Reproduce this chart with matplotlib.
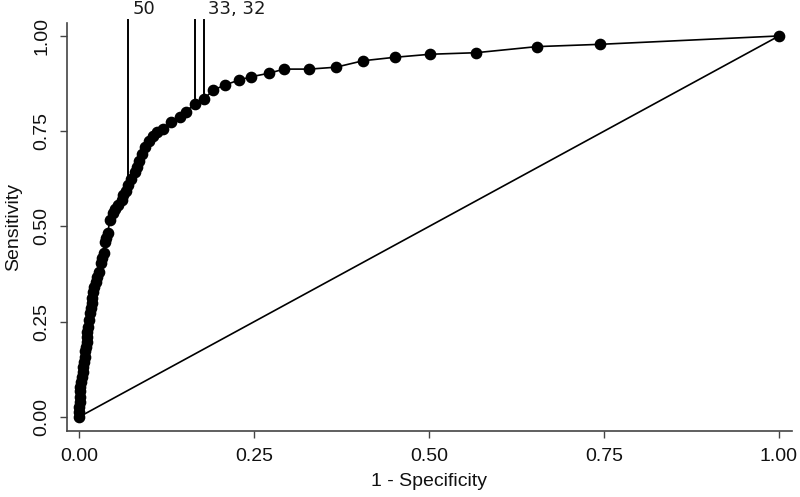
import matplotlib
matplotlib.use("Agg")
import matplotlib.pyplot as plt

# ROC curve points (1 - specificity, sensitivity)
fpr = [0.000, 0.000, 0.000, 0.001, 0.001, 0.002, 0.002, 0.003, 0.004, 0.005,
       0.006, 0.007, 0.008, 0.009, 0.010, 0.011, 0.011, 0.012, 0.013, 0.014,
       0.015, 0.017, 0.018, 0.019, 0.020, 0.022, 0.024, 0.026, 0.028, 0.031,
       0.033, 0.035, 0.037, 0.039, 0.041, 0.044, 0.049, 0.052, 0.056, 0.061,
       0.063, 0.067, 0.0695, 0.074, 0.080, 0.083, 0.086, 0.090, 0.094, 0.100,
       0.106, 0.112, 0.120, 0.131, 0.144, 0.153, 0.165, 0.178, 0.192, 0.208,
       0.228, 0.246, 0.271, 0.293, 0.329, 0.367, 0.406, 0.451, 0.502, 0.567,
       0.654, 0.744, 1.000]
sens = [0.000, 0.013, 0.027, 0.040, 0.053, 0.067, 0.080, 0.093, 0.106, 0.119,
        0.132, 0.145, 0.158, 0.172, 0.185, 0.198, 0.211, 0.224, 0.237, 0.255,
        0.272, 0.285, 0.298, 0.313, 0.329, 0.342, 0.355, 0.368, 0.381, 0.403,
        0.416, 0.430, 0.460, 0.471, 0.482, 0.517, 0.535, 0.545, 0.556, 0.570,
        0.583, 0.592, 0.608, 0.624, 0.642, 0.657, 0.672, 0.690, 0.709, 0.725,
        0.738, 0.749, 0.755, 0.775, 0.788, 0.801, 0.822, 0.834, 0.858, 0.871,
        0.884, 0.893, 0.902, 0.913, 0.913, 0.918, 0.935, 0.944, 0.952, 0.956,
        0.972, 0.978, 1.000]

# marked cut-off points
cut_x = [0.0695, 0.165, 0.178]
cut_y = [0.608, 0.822, 0.834]
cut_top = 1.042
cut_labels = ["50", "33, 32"]
cut_label_x = [0.0695, 0.178]

xticks = [0.00, 0.25, 0.50, 0.75, 1.00]
yticks = [0.00, 0.25, 0.50, 0.75, 1.00]
tick_labels = ["0.00", "0.25", "0.50", "0.75", "1.00"]

fig = plt.figure(figsize=(8.0, 4.97), dpi=100)
ax = fig.add_axes([66.7 / 800, 1 - 431 / 497, (792 - 66.7) / 800, (431 - 23) / 497])

ax.plot([0, 1], [0, 1], color="black", lw=1.2, zorder=2)
ax.plot(fpr, sens, color="black", lw=1.2, marker="o", markersize=7.4,
        markerfacecolor="black", markeredgecolor="black", zorder=3, clip_on=False)

for x, y in zip(cut_x, cut_y):
    ax.plot([x, x], [y, cut_top], color="black", lw=1.4, zorder=2, clip_on=False)

for lab, x in zip(cut_labels, cut_label_x):
    ax.annotate(lab, xy=(x, cut_top), xytext=(3.5, 1.5), textcoords="offset points",
                ha="left", va="bottom", fontsize=13, family="DejaVu Sans",
                color="#1a1a1a", annotation_clip=False)

ax.set_xlim(-0.0176, 1.0186)
ax.set_ylim(-0.0367, 1.034)

for s in ["top", "right"]:
    ax.spines[s].set_visible(False)
for s in ["left", "bottom"]:
    ax.spines[s].set_color("#444444")
    ax.spines[s].set_linewidth(1.2)

ax.set_xticks(xticks)
ax.set_xticklabels(tick_labels, family="Liberation Sans", fontsize=14)
ax.set_yticks(yticks)
ax.set_yticklabels(tick_labels, family="Liberation Sans", fontsize=14,
                   rotation=90, va="center")
ax.tick_params(axis="both", length=5, width=1.0, color="#444444", pad=7,
               labelcolor="#111111")

ax.set_xlabel("1 - Specificity", family="Liberation Sans", fontsize=14,
              color="#111111", labelpad=6)
ax.set_ylabel("Sensitivity", family="Liberation Sans", fontsize=14,
              color="#111111", labelpad=8)

fig.savefig("out.png", dpi=100, facecolor="white")
